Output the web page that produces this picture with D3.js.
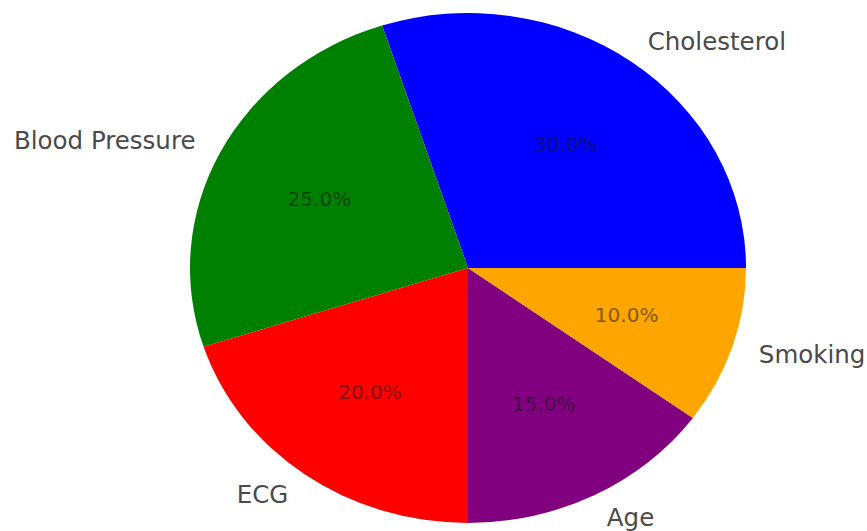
<!DOCTYPE html>
<html>
<head>
<meta charset="utf-8">
<script src="https://cdn.jsdelivr.net/npm/d3@7"></script>
<style>
  body { margin: 0; background: white; }
  svg text { font-family: "DejaVu Sans", sans-serif; }
</style>
</head>
<body>
<div id="chart"></div>
<script>
const categories = ["Cholesterol", "Blood Pressure", "ECG", "Age", "Smoking"];
const shares = [30, 25, 20, 15, 10];
const colors = ["blue", "green", "red", "purple", "orange"];

const width = 867, height = 531;
const cx = 468, cy = 268, rx = 278, ry = 255;

const svg = d3.select("#chart")
  .append("svg")
  .attr("width", width)
  .attr("height", height);

const data = categories.map((c, i) => ({ name: c, value: shares[i], color: colors[i] }));

// matplotlib style: start at 3 o'clock, go counterclockwise
const pie = d3.pie()
  .sort(null)
  .value(d => d.value)
  .startAngle(Math.PI / 2)
  .endAngle(Math.PI / 2 - 2 * Math.PI);

const arcs = pie(data);

const arc = d3.arc().innerRadius(0).outerRadius(ry);

svg.append("g")
  .attr("transform", `translate(${cx},${cy}) scale(${rx / ry},1)`)
  .selectAll("path")
  .data(arcs)
  .enter()
  .append("path")
  .attr("d", arc)
  .attr("fill", d => d.data.color);

const total = d3.sum(shares);
const mid = d => (d.startAngle + d.endAngle) / 2;

// outer labels
svg.append("g")
  .selectAll("text")
  .data(arcs)
  .enter()
  .append("text")
  .attr("x", d => cx + 1.1 * rx * Math.sin(mid(d)))
  .attr("y", d => cy - 1.1 * ry * Math.cos(mid(d)))
  .attr("text-anchor", d => Math.sin(mid(d)) > 0 ? "start" : "end")
  .attr("dominant-baseline", "central")
  .style("font-size", "24.5px")
  .style("fill", "#4a4a4a")
  .text(d => d.data.name);

// percentage labels
svg.append("g")
  .selectAll("text")
  .data(arcs)
  .enter()
  .append("text")
  .attr("x", d => cx + 0.6 * rx * Math.sin(mid(d)))
  .attr("y", d => cy - 0.6 * ry * Math.cos(mid(d)))
  .attr("text-anchor", "middle")
  .attr("dominant-baseline", "central")
  .style("font-size", "20px")
  .style("fill", "#1a1a1a")
  .style("opacity", 0.55)
  .text(d => (d.data.value / total * 100).toFixed(1) + "%");
</script>
</body>
</html>
